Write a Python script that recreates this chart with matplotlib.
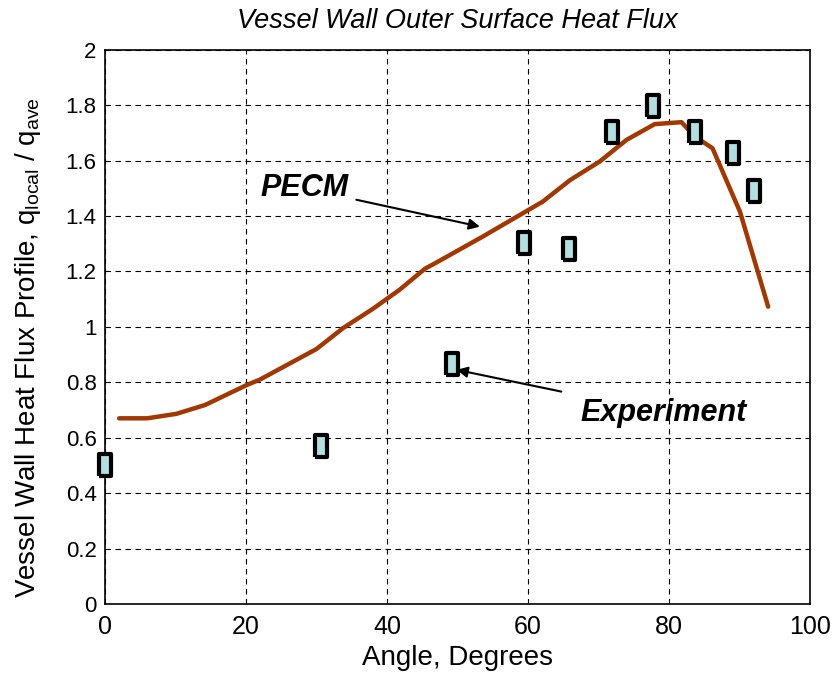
import matplotlib
matplotlib.use("Agg")
import matplotlib.pyplot as plt

plt.rcParams['font.family'] = ['Liberation Sans', 'DejaVu Sans']
plt.rcParams['mathtext.default'] = 'regular'

pecm_angle = [2.0, 6.0, 10.1, 14.2, 20.1, 22.0, 30.0, 33.8, 38.0, 41.8, 45.4, 47.0, 53.6, 62.1, 66.0, 70.2, 74.0, 78.0, 81.8, 83.7, 86.2, 90.1, 94.1]
pecm_flux = [0.67, 0.67, 0.686, 0.718, 0.79, 0.81, 0.92, 0.996, 1.065, 1.134, 1.21, 1.232, 1.326, 1.452, 1.53, 1.597, 1.675, 1.732, 1.739, 1.687, 1.645, 1.416, 1.073]

exp_angle = [0.0, 30.6, 49.2, 59.5, 65.9, 71.9, 77.8, 83.7, 89.1, 92.1]
exp_flux = [0.50, 0.57, 0.866, 1.302, 1.28, 1.705, 1.799, 1.705, 1.627, 1.49]

xticks = [0, 20, 40, 60, 80, 100]
yticks = [0, 0.2, 0.4, 0.6, 0.8, 1, 1.2, 1.4, 1.6, 1.8, 2]
ytick_labels = ['0', '0.2', '0.4', '0.6', '0.8', '1', '1.2', '1.4', '1.6', '1.8', '2']

fig = plt.figure(figsize=(8.34, 6.74), dpi=100)
ax = fig.add_axes([0.1259, 0.104, 0.845, 0.822])

ax.plot(pecm_angle, pecm_flux, color='#a13800', lw=3.2, solid_capstyle='round', zorder=3)
rect = [(-0.55, -1), (0.55, -1), (0.55, 1), (-0.55, 1), (-0.55, -1)]
ax.plot(exp_angle, exp_flux, ls='none', marker=rect, markersize=16,
        markerfacecolor='#b4dfe0', markeredgecolor='black', markeredgewidth=3.0,
        clip_on=False, zorder=4)

ax.set_xlim(0, 100)
ax.set_ylim(0, 2)
ax.set_xticks(xticks)
ax.set_yticks(yticks)
ax.set_yticklabels(ytick_labels)
ax.tick_params(axis='x', labelsize=18, direction='in', length=0, pad=8)
ax.tick_params(axis='y', labelsize=16, direction='in', length=0, pad=6)
ax.grid(True, color='black', linestyle=(0, (5, 4)), linewidth=0.8)
for s in ax.spines.values():
    s.set_linewidth(1.2)

ax.set_xlabel('Angle, Degrees', fontsize=20, labelpad=4)
ax.set_ylabel('Vessel Wall Heat Flux Profile, q$_{local}$ / q$_{ave}$', fontsize=20)
ax.yaxis.set_label_coords(-0.088, 0.462)
ax.set_title('Vessel Wall Outer Surface Heat Flux', fontsize=19.5, style='italic', pad=16)

ax.annotate('PECM', xy=(53.2, 1.362), xytext=(34.5, 1.50), fontsize=22,
            fontweight='bold', style='italic', ha='right', va='center',
            arrowprops=dict(arrowstyle='-|>', color='black', lw=1.5,
                            mutation_scale=16, shrinkA=4, shrinkB=0))
ax.annotate('Experiment', xy=(49.9, 0.845), xytext=(67.4, 0.69), fontsize=22,
            fontweight='bold', style='italic', ha='left', va='center',
            arrowprops=dict(arrowstyle='-|>', color='black', lw=1.5,
                            mutation_scale=16, shrinkA=12, shrinkB=0))

fig.savefig('out.png', dpi=100)
